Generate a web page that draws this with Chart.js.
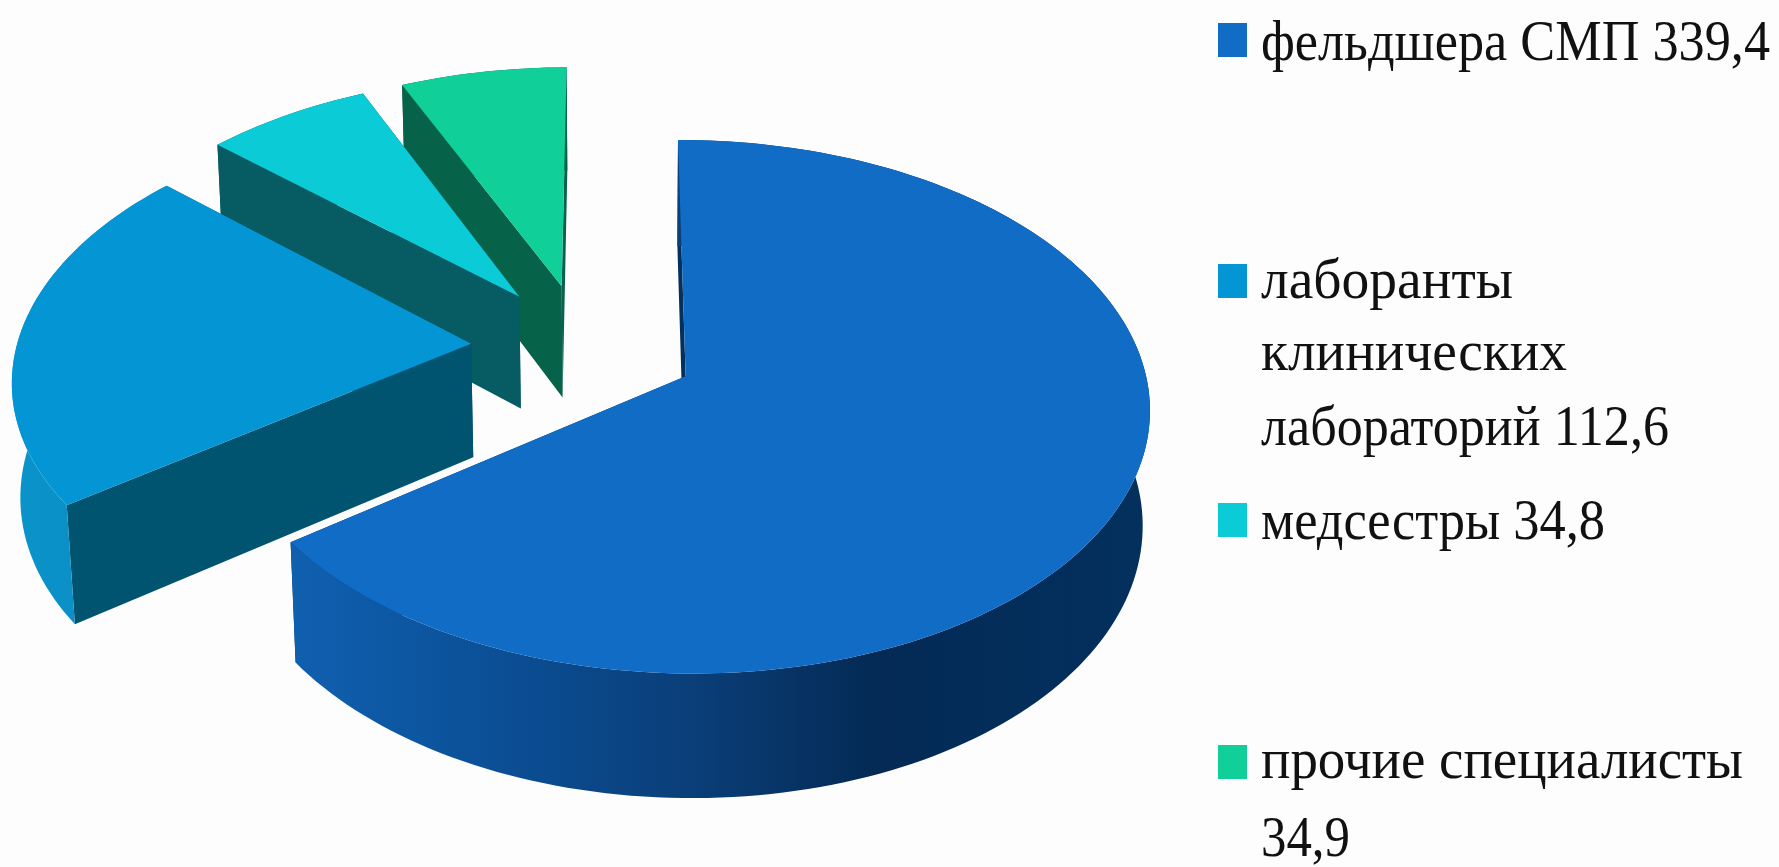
<!DOCTYPE html>
<html lang="ru">
<head>
<meta charset="utf-8">
<title>Структура специалистов</title>
<script src="https://cdn.jsdelivr.net/npm/chart.js@4/dist/chart.umd.min.js"></script>
<style>
html,body{margin:0;padding:0;background:#fdfdfd;overflow:hidden}
#wrap{position:absolute;left:0;top:0;width:1779px;height:867px}
</style>
</head>
<body>
<div id="wrap"><canvas id="pie" width="1779" height="867"></canvas></div>
<script>
// Chart data
const categories = ['фельдшера СМП', 'лаборанты клинических лабораторий', 'медсестры', 'прочие специалисты'];
const values = [339.4, 112.6, 34.8, 34.9];
const legendLines = [['фельдшера СМП'], ['лаборанты', 'клинических', 'лабораторий'], ['медсестры'], ['прочие специалисты', '']];

// Slice styling
const topColors = ['#106cc4', '#0496d4', '#0acbd6', '#10cf98'];
const cutColors = ['#04305e', '#00546f', '#075b62', '#07624a'];
const rimStops = [
  [[0, '#1060b0'], [0.24, '#0b4f96'], [0.47, '#0a3e78'], [0.68, '#042a55'], [1, '#03305e']],
  [[0, '#0a94cb'], [1, '#0a8abf']],
  [[0, '#075b62'], [1, '#075b62']],
  [[0, '#07624a'], [1, '#07624a']]
];

// Camera used to tilt the disc: plane units are pie radii
const camera = { cx: 628.5, cy: 384, kx: 462, ky: 265, p: 0.115, cu: -0.098, cv: -0.142, thick: 116.5, q: 0.014 };

// Legend layout
const legendLayout = {
  swatchX: 1218, swatchW: 29, swatchH: 34, textX: 1261,
  tops: [23, 264, 503, 745],
  baselines: [[60], [298, 370, 445], [539], [778, 856]],
  widths: [[509], [252, 306, 408], [344], [482, 89]]
};

function project(pu, pv, lifted) {
  const c = camera;
  const u = pu + c.cu, v = pv + c.cv;
  const w = 1 - c.p * v + (lifted ? 0 : c.q);
  return {
    x: c.cx + c.kx * u / w,
    y: c.cy + (c.ky * v + (lifted ? 0 : c.thick)) / w
  };
}

function trace(ctx, pts) {
  ctx.beginPath();
  pts.forEach((p, i) => i ? ctx.lineTo(p.x, p.y) : ctx.moveTo(p.x, p.y));
  ctx.closePath();
}

function paintSlice(ctx, el, idx) {
  const R = el.outerRadius;
  const mid = (el.startAngle + el.endAngle) / 2;
  const ax = Math.cos(mid) * el.options.offset / R;
  const ay = Math.sin(mid) * el.options.offset / R;
  const steps = Math.max(16, Math.ceil((el.endAngle - el.startAngle) * 40));
  const rimPlane = [];
  for (let i = 0; i <= steps; i++) {
    const a = el.startAngle + (el.endAngle - el.startAngle) * i / steps;
    rimPlane.push([ax + Math.cos(a), ay + Math.sin(a)]);
  }
  const top = rimPlane.map(q => project(q[0], q[1], true));
  const bottom = rimPlane.map(q => project(q[0], q[1], false));
  const apexTop = project(ax, ay, true);
  const apexBottom = project(ax, ay, false);

  // Side faces, farthest first
  const faces = [
    [apexTop, top[0], bottom[0], apexBottom],
    [apexTop, top[steps], bottom[steps], apexBottom]
  ];
  faces.sort((a, b) => (a[1].y + a[0].y) - (b[1].y + b[0].y));
  faces.forEach(f => { ctx.fillStyle = cutColors[idx]; trace(ctx, f); ctx.fill(); });

  // Curved rim
  const xs = top.concat(bottom).map(p => p.x);
  const grad = ctx.createLinearGradient(Math.min(...xs), 0, Math.max(...xs), 0);
  rimStops[idx].forEach(s => grad.addColorStop(s[0], s[1]));
  ctx.fillStyle = grad;
  trace(ctx, top.concat(bottom.slice().reverse()));
  ctx.fill();

  // Upper face
  ctx.fillStyle = el.options.backgroundColor;
  trace(ctx, [apexTop].concat(top));
  ctx.fill();
}

const tiltedPie = {
  id: 'tiltedPie',
  beforeDatasetsDraw(chart) {
    const ctx = chart.ctx;
    const arcs = chart.getDatasetMeta(0).data;
    ctx.save();
    // Back slices first so nearer ones overlap them
    for (let i = arcs.length - 1; i >= 0; i--) paintSlice(ctx, arcs[i], i);
    ctx.restore();
    return false;
  }
};

const sideLegend = {
  id: 'sideLegend',
  afterDraw(chart) {
    const ctx = chart.ctx, L = legendLayout;
    ctx.save();
    ctx.textBaseline = 'alphabetic';
    ctx.font = '56px "Liberation Serif"';
    legendLines.forEach((lines, i) => {
      ctx.fillStyle = topColors[i];
      ctx.fillRect(L.swatchX, L.tops[i], L.swatchW, L.swatchH);
      ctx.fillStyle = '#111';
      const valueText = String(values[i]).replace('.', ',');
      lines.forEach((line, j) => {
        const text = j === lines.length - 1 ? (line ? line + ' ' : '') + valueText : line;
        const sx = L.widths[i][j] / ctx.measureText(text).width;
        ctx.save();
        ctx.translate(L.textX, L.baselines[i][j]);
        ctx.scale(sx, 1);
        ctx.fillText(text, 0, 0);
        ctx.restore();
      });
    });
    ctx.restore();
  }
};

new Chart(document.getElementById('pie'), {
  type: 'pie',
  data: {
    labels: categories,
    datasets: [{ data: values, backgroundColor: topColors, borderWidth: 0, offset: 96 }]
  },
  options: {
    responsive: false,
    animation: false,
    rotation: -0.25,
    layout: { padding: 0 },
    plugins: { legend: { display: false }, tooltip: { enabled: false }, title: { display: false } }
  },
  plugins: [tiltedPie, sideLegend]
});
</script>
</body>
</html>
